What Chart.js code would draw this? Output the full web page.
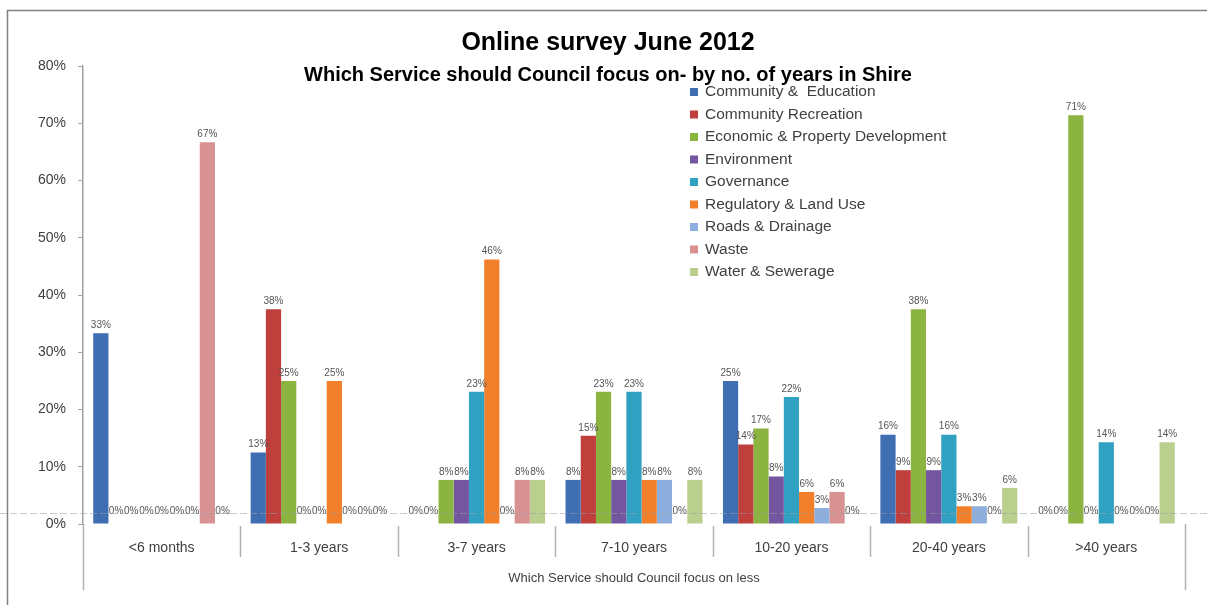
<!DOCTYPE html>
<html>
<head>
<meta charset="utf-8">
<title>Online survey June 2012</title>
<script src="https://cdn.jsdelivr.net/npm/chart.js@4.4.1/dist/chart.umd.min.js"></script>
<style>
    html, body { margin: 0; padding: 0; background: #fff; }
    #wrap { position: relative; width: 1207px; height: 605px; }
</style>
</head>
<body>
<div id="wrap"><canvas id="focusChart" width="1207" height="605"></canvas></div>
<script>

const chartTitle = 'Online survey June 2012';
const chartSubtitle = 'Which Service should Council focus on- by no. of years in Shire';
const axisTitle = 'Which Service should Council focus on less';

const categories = ['<6 months', '1-3 years', '3-7 years', '7-10 years', '10-20 years', '20-40 years', '>40 years'];

const services = [
    'Community &  Education',
    'Community Recreation',
    'Economic & Property Development',
    'Environment',
    'Governance',
    'Regulatory & Land Use',
    'Roads & Drainage',
    'Waste',
    'Water & Sewerage'
];

// share of respondents (%) per years-in-Shire group
const communityEducation  = [33.3, 12.5,  0.0,  7.7, 25.0, 15.6,  0.0];
const communityRecreation = [ 0.0, 37.5,  0.0, 15.4, 13.9,  9.4,  0.0];
const economicProperty    = [ 0.0, 25.0,  7.7, 23.1, 16.7, 37.5, 71.4];
const environment         = [ 0.0,  0.0,  7.7,  7.7,  8.3,  9.4,  0.0];
const governance          = [ 0.0,  0.0, 23.1, 23.1, 22.2, 15.6, 14.3];
const regulatoryLandUse   = [ 0.0, 25.0, 46.2,  7.7,  5.6,  3.1,  0.0];
const roadsDrainage       = [ 0.0,  0.0,  0.0,  7.7,  2.8,  3.1,  0.0];
const waste               = [66.7,  0.0,  7.7,  0.0,  5.6,  0.0,  0.0];
const waterSewerage       = [ 0.0,  0.0,  7.7,  7.7,  0.0,  6.3, 14.3];

const yTicks = [0, 10, 20, 30, 40, 50, 60, 70, 80];

const seriesValues = [
    communityEducation, communityRecreation, economicProperty, environment,
    governance, regulatoryLandUse, roadsDrainage, waste, waterSewerage
];

const seriesColors = [
    '#3f6eb3', '#bf3f3d', '#8cb441', '#7456a0', '#31a1c2',
    '#f2802a', '#8eaedd', '#d99292', '#bacf8e'
];

const fontFamily = "'Liberation Sans', Arial, sans-serif";
const textColor = '#404040';


// frame, titles, legend, value labels and the two-level axis separators
const decorPlugin = {
    id: 'decor',
    beforeDraw(chart) {
        const c = chart.ctx;
        c.save();
        c.fillStyle = '#fff';
        c.fillRect(0, 0, chart.width, chart.height);
        c.strokeStyle = '#808080';
        c.lineWidth = 1.5;
        c.beginPath();
        c.moveTo(7.5, chart.height);
        c.lineTo(7.5, 10.5);
        c.lineTo(chart.width, 10.5);
        c.stroke();
        c.restore();
    },
    afterDatasetsDraw(chart) {
        const c = chart.ctx;
        c.save();
        c.font = '10px ' + fontFamily;
        c.fillStyle = '#555';
        c.textAlign = 'center';
        c.textBaseline = 'bottom';
        chart.data.datasets.forEach((ds, i) => {
            const meta = chart.getDatasetMeta(i);
            meta.data.forEach((bar, j) => {
                const v = ds.data[j];
                const lift = v === 0 ? 8 : 3;
                c.fillText(Math.round(v) + '%', bar.x, bar.y - lift);
            });
        });
        c.restore();
    },
    afterDraw(chart) {
        const c = chart.ctx;
        const area = chart.chartArea;
        const x = chart.scales.x;
        const y = chart.scales.y;
        c.save();

        // faint dashed rule just above the baseline
        c.strokeStyle = 'rgba(150,160,170,0.55)';
        c.lineWidth = 1;
        c.setLineDash([7, 3]);
        c.beginPath();
        c.moveTo(0, Math.round(y.getPixelForValue(2)) + 0.5);
        c.lineTo(chart.width, Math.round(y.getPixelForValue(2)) + 0.5);
        c.stroke();
        c.setLineDash([]);

        // category separators below the plot
        const half = (x.getPixelForValue(1) - x.getPixelForValue(0)) / 2;
        c.strokeStyle = '#b0b0b0';
        c.lineWidth = 1.5;
        for (let i = 0; i <= categories.length; i++) {
            const px = Math.round(x.getPixelForValue(i) - half) + 0.5;
            const outer = i === 0 || i === categories.length;
            c.beginPath();
            c.moveTo(px, area.bottom + (outer ? 0 : 2));
            c.lineTo(px, area.bottom + (outer ? 66 : 33));
            c.stroke();
        }

        // titles
        c.fillStyle = '#000';
        c.textAlign = 'center';
        c.textBaseline = 'middle';
        c.font = 'bold 25px ' + fontFamily;
        c.fillText(chartTitle, 608, 43);
        c.font = 'bold 20px ' + fontFamily;
        c.fillText(chartSubtitle, 608, 75);

        // legend
        c.textAlign = 'left';
        c.font = '15.5px ' + fontFamily;
        services.forEach((name, i) => {
            const ly = 92 + i * 22.5;
            c.fillStyle = seriesColors[i];
            c.fillRect(690, ly - 4, 8, 8);
            c.fillStyle = textColor;
            c.fillText(name, 705, ly);
        });
        c.restore();
    }
};


const datasets = services.map((name, i) => ({
    label: name,
    data: seriesValues[i],
    backgroundColor: seriesColors[i],
    borderWidth: 0,
    categoryPercentage: 0.87,
    barPercentage: 1.0
}));

new Chart(document.getElementById('focusChart'), {
    type: 'bar',
    data: {
        labels: categories,
        datasets: datasets
    },
    plugins: [decorPlugin],
    options: {
        responsive: false,
        animation: false,
        layout: {
            padding: { top: 66, right: 22, bottom: 0, left: 0 }
        },
        plugins: {
            legend: { display: false },
            title: { display: false },
            tooltip: { enabled: false }
        },
        scales: {
            x: {
                afterFit: scale => { scale.height = 81; },
                grid: { display: false, drawTicks: false },
                border: { display: false },
                ticks: {
                    padding: 16,
                    color: textColor,
                    font: { family: fontFamily, size: 14 }
                },
                title: {
                    display: true,
                    text: axisTitle,
                    color: textColor,
                    font: { family: fontFamily, size: 13 },
                    padding: { top: 0, bottom: 19 }
                }
            },
            y: {
                min: 0,
                max: 80,
                afterFit: scale => { scale.width = 83; },
                afterBuildTicks: scale => {
                    scale.ticks = yTicks.map(v => ({ value: v }));
                },
                grid: { drawOnChartArea: false, tickLength: 5, color: '#a0a0a0' },
                border: { color: '#a0a0a0', width: 1.5 },
                ticks: {
                    padding: 12,
                    color: textColor,
                    font: { family: fontFamily, size: 14 },
                    callback: v => v + '%'
                }
            }
        }
    }
});
</script>
</body>
</html>
